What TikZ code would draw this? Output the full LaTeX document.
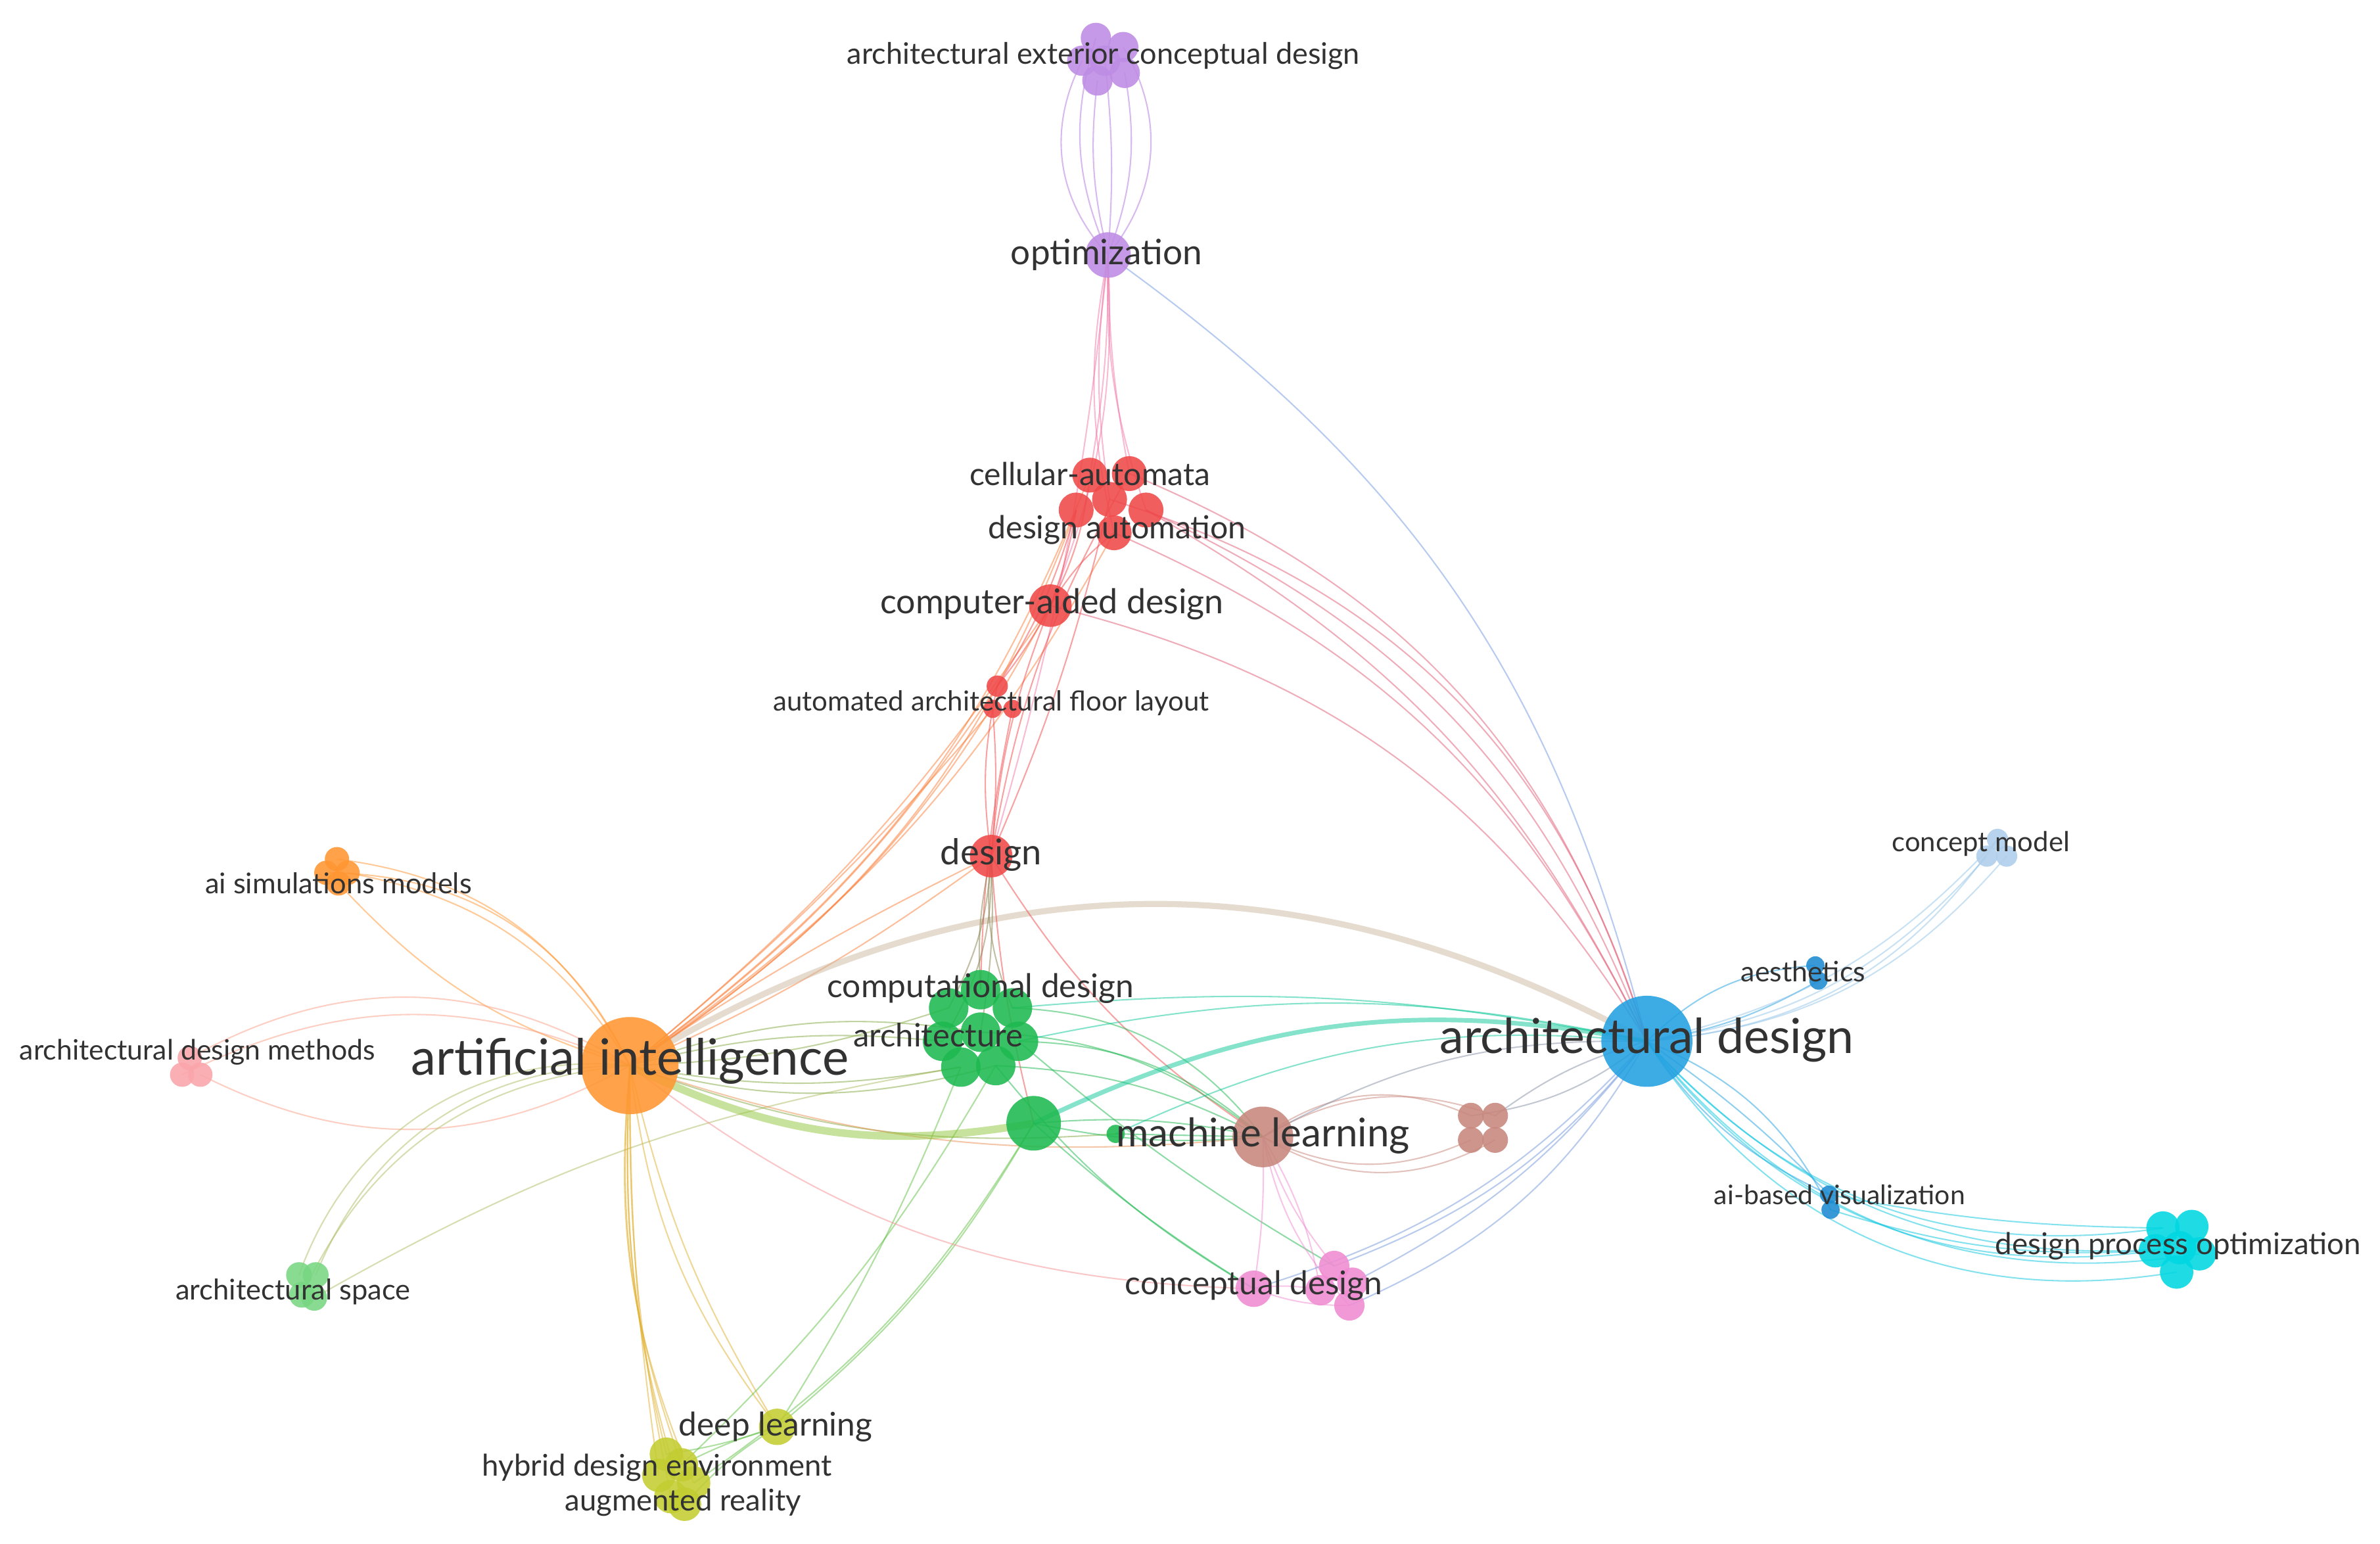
\documentclass[tikz,border=0pt]{standalone}
\usepackage{fontspec}
\setmainfont{Lato}

\definecolor{cPurple}{RGB}{190,140,228}
\definecolor{cRed}{RGB}{240,72,72}
\definecolor{cGreen}{RGB}{30,185,80}
\definecolor{cOrange}{RGB}{255,150,50}
\definecolor{cBlue}{RGB}{35,160,225}
\definecolor{cBrown}{RGB}{200,135,125}
\definecolor{cPink}{RGB}{240,140,210}
\definecolor{cCyan}{RGB}{0,215,225}
\definecolor{cSky}{RGB}{175,205,235}
\definecolor{cRose}{RGB}{250,165,170}
\definecolor{cMint}{RGB}{120,215,130}
\definecolor{cOlive}{RGB}{195,205,50}
\definecolor{cNavy}{RGB}{30,140,210}
\definecolor{cTan}{RGB}{205,185,160}
\definecolor{cText}{RGB}{50,50,50}

\tikzset{
  kw/.style={circle, draw=none, fill=#1, fill opacity=0.88, inner sep=0pt},
  edge/.style={draw=#1, draw opacity=0.5, line width=0.9pt},
  lbl/.style={text=cText, inner sep=0pt},
  lblS/.style={lbl, font=\fontsize{18.5}{21}\selectfont},
  lblM/.style={lbl, font=\fontsize{21.5}{24}\selectfont},
  lblL/.style={lbl, font=\fontsize{26}{29}\selectfont},
  lblXL/.style={lbl, font=\fontsize{32}{36}\selectfont}
}

\begin{document}
\begin{tikzpicture}[x=1pt,y=1pt,yscale=-1,xscale=1]
    \fill[white] (0,0) rectangle (1568,1017);
    \useasboundingbox (0,0) rectangle (1568,1017);

    % keyword positions
    \coordinate (aecdA) at (722,25);  \coordinate (aecdB) at (740,31);
    \coordinate (aecdC) at (713,40);  \coordinate (aecdD) at (728,40);
    \coordinate (aecdE) at (741,48);  \coordinate (aecdF) at (723,53);
    \coordinate (opt) at (730,168);
    \coordinate (caA) at (718,313);   \coordinate (caB) at (744,312);
    \coordinate (caC) at (709,336);   \coordinate (caD) at (731,329);
    \coordinate (caE) at (755,336);   \coordinate (caF) at (734,351);
    \coordinate (cad) at (692,399);
    \coordinate (aaflA) at (657,452); \coordinate (aaflB) at (654,467);
    \coordinate (aaflC) at (667,467);
    \coordinate (des) at (653,564);
    \coordinate (cdA) at (646,652);   \coordinate (cdB) at (625,664);
    \coordinate (cdC) at (667,664);   \coordinate (cdD) at (621,686);
    \coordinate (cdE) at (646,680);   \coordinate (cdF) at (671,686);
    \coordinate (cdG) at (633,703);   \coordinate (cdH) at (656,702);
    \coordinate (grn) at (681,740);   \coordinate (grnS) at (735,747);
    \coordinate (ml) at (832,749);
    \coordinate (brA) at (969,735);   \coordinate (brB) at (985,735);
    \coordinate (brC) at (969,751);   \coordinate (brD) at (985,751);
    \coordinate (ad) at (1085,686);
    \coordinate (aesA) at (1196,636); \coordinate (aesB) at (1198,646);
    \coordinate (cmA) at (1316,553);  \coordinate (cmB) at (1309,564);
    \coordinate (cmC) at (1322,564);
    \coordinate (abvA) at (1205,787); \coordinate (abvB) at (1206,797);
    \coordinate (dpoA) at (1425,809); \coordinate (dpoB) at (1444,808);
    \coordinate (dpoC) at (1420,824); \coordinate (dpoD) at (1449,826);
    \coordinate (dpoE) at (1434,838); \coordinate (dpoF) at (1436,822);
    \coordinate (cnd) at (826,849);
    \coordinate (pkA) at (879,834);   \coordinate (pkB) at (870,850);
    \coordinate (pkC) at (891,845);   \coordinate (pkD) at (889,860);
    \coordinate (ai) at (415,702);
    \coordinate (aisA) at (222,566);  \coordinate (aisB) at (215,575);
    \coordinate (aisC) at (229,575);  \coordinate (aisD) at (223,582);
    \coordinate (admA) at (125,697);  \coordinate (admB) at (120,708);
    \coordinate (admC) at (132,708);
    \coordinate (aspA) at (197,840);  \coordinate (aspB) at (208,840);
    \coordinate (aspC) at (199,853);  \coordinate (aspD) at (207,855);
    \coordinate (dl) at (512,940);
    \coordinate (hdeA) at (439,958);  \coordinate (hdeB) at (449,965);
    \coordinate (hdeC) at (434,972);  \coordinate (hdeD) at (457,977);
    \coordinate (hdeE) at (442,986);  \coordinate (hdeF) at (451,991);

    % links (positive bend = bulge to the left of the run, as seen)
    \foreach \src/\dst/\bnd in {ai/aisA/-28, ai/aisB/-32, ai/aisC/-24, aisD/ai/-15}
      \draw[edge=cOrange] (\src) to[bend right=\bnd] (\dst);
    \foreach \src/\dst/\bnd in {ai/caC/-18, ai/caA/-16, ai/caF/-13, ai/cad/-14, ai/cad/-8,
        ai/aaflA/-10, ai/aaflB/-5, ai/des/-6, ai/des/4}
      \draw[edge=cOrange!70!cRed] (\src) to[bend right=\bnd] (\dst);
    \foreach \src/\dst/\bnd in {ai/admA/-30, ai/admB/-25, ai/admC/28}
      \draw[edge=cRose!70!cOrange] (\src) to[bend right=\bnd] (\dst);
    \foreach \src/\dst/\bnd in {ai/aspA/-38, ai/aspB/-34, ai/aspC/-30, aspD/cdG/10}
      \draw[edge=cMint!60!cOrange] (\src) to[bend right=\bnd] (\dst);
    \foreach \src/\dst/\bnd in {ai/hdeA/-8, ai/hdeB/-12, ai/hdeC/-4, ai/hdeE/-6, ai/hdeF/-10,
        ai/hdeD/-14, ai/dl/-15, ai/dl/-9}
      \draw[edge=cOlive!50!cOrange] (\src) to[bend right=\bnd] (\dst);
    \foreach \src/\dst/\bnd in {dl/hdeA/5, dl/hdeB/-5, dl/hdeF/-8, dl/grn/-10, dl/cdG/-5,
        hdeD/grn/-12, hdeB/cdH/-8}
      \draw[edge=cOlive!40!cGreen] (\src) to[bend right=\bnd] (\dst);
    \foreach \src/\dst/\bnd in {ai/cdB/-8, ai/cdD/10, ai/cdG/-10, ai/cdE/14, ai/cdH/-15, ai/grnS/-12}
      \draw[edge=cOrange!45!cGreen] (\src) to[bend right=\bnd] (\dst);
    \draw[edge=cOrange!60!cBrown] (ai) to[bend right=-12] (ml);
    \draw[edge=cOrange!40!cPink] (ai) to[bend right=-18] (cnd);
    \draw[edge=cOlive!70!cGreen, line width=5pt] (ai) to[bend right=-18] (grn);
    \draw[edge=cTan, line width=4pt] (ai) to[bend right=30] (ad);

    \foreach \src/\dst/\bnd in {opt/aecdC/35, opt/aecdA/20, opt/aecdF/10, opt/aecdD/-5,
        opt/aecdB/-35, opt/aecdE/-15}
      \draw[edge=cPurple, draw opacity=0.6] (\src) to[bend right=\bnd] (\dst);
    \foreach \src/\dst/\bnd in {opt/caA/5, opt/caB/-5, opt/caD/-8, opt/caE/-10, opt/caF/-12,
        opt/cad/12, opt/des/5}
      \draw[edge=cPink!70!cRed] (\src) to[bend right=\bnd] (\dst);
    \draw[edge=cPurple!50!cBlue] (opt) to[bend right=20] (ad);

    \foreach \src/\dst/\bnd in {caA/cad/10, caC/cad/5, caF/cad/-10, caD/des/5, caB/des/-10,
        caC/aaflA/8, cad/aaflA/5, cad/des/-8, aaflA/des/-10, aaflB/des/5, aaflC/cdA/-5,
        des/ml/-12, des/grn/-5}
      \draw[edge=cRed] (\src) to[bend right=\bnd] (\dst);
    \foreach \src/\dst/\bnd in {caB/ad/25, caE/ad/22, caE/ad/17, caF/ad/20, caD/ad/28, cad/ad/22}
      \draw[edge=cRed!70!cPurple] (\src) to[bend right=\bnd] (\dst);
    \foreach \src/\dst/\bnd in {des/cdB/12, des/cdA/-8, des/cdE/6, des/cdC/-14, des/cdD/16}
      \draw[edge=cRed!50!cGreen] (\src) to[bend right=\bnd] (\dst);

    \foreach \src/\dst/\bnd in {cdF/ml/20, cdC/ml/25, cdH/ml/12, cdE/ml/18, grn/ml/-8,
        grn/ml/8, grnS/ml/0, cdH/cnd/-10, cdF/pkA/-5, grn/cnd/-5}
      \draw[edge=cGreen] (\src) to[bend right=\bnd] (\dst);
    \foreach \src/\dst/\bnd in {cdF/ad/12, cdC/ad/8, grnS/ad/15}
      \draw[edge=cGreen!50!cCyan] (\src) to[bend right=\bnd] (\dst);
    \draw[edge=cGreen!50!cCyan, line width=3pt] (grn) to[bend right=18] (ad);

    \foreach \src/\dst/\bnd in {ml/brA/30, ml/brB/25, ml/brC/-25, ml/brD/-30}
      \draw[edge=cBrown] (\src) to[bend right=\bnd] (\dst);
    \foreach \src/\dst/\bnd in {ml/ad/15, ad/brA/15, ad/brB/-10}
      \draw[edge=cBrown!60!cBlue] (\src) to[bend right=\bnd] (\dst);
    \foreach \src/\dst/\bnd in {ml/cnd/5, ml/pkA/-10, ml/pkB/10, ml/pkD/-15, cnd/pkB/10, cnd/pkD/-10}
      \draw[edge=cPink] (\src) to[bend right=\bnd] (\dst);
    \foreach \src/\dst/\bnd in {pkA/ad/-15, pkC/ad/-12, pkD/ad/-18, cnd/ad/-15}
      \draw[edge=cPink!40!cBlue] (\src) to[bend right=\bnd] (\dst);

    \foreach \src/\dst/\bnd in {ad/aesA/20, ad/aesB/-10, ad/abvA/-15, ad/abvB/20, ad/abvA/5}
      \draw[edge=cBlue] (\src) to[bend right=\bnd] (\dst);
    \foreach \src/\dst/\bnd in {ad/cmA/-25, ad/cmB/-20, ad/cmC/-22, ad/cmA/-17}
      \draw[edge=cSky!80!cBlue] (\src) to[bend right=\bnd] (\dst);
    \foreach \src/\dst/\bnd in {ad/dpoA/-28, ad/dpoC/-30, ad/dpoE/-33, ad/dpoF/-26, ad/dpoD/-30,
        abvB/dpoC/-10, abvA/dpoA/-5}
      \draw[edge=cCyan!70!cBlue] (\src) to[bend right=\bnd] (\dst);

    %Shape: Circle
    \foreach \n in {aecdA,aecdB,aecdC,aecdD,aecdE,aecdF}
      \node[kw=cPurple, minimum size=20] (\n-c) at (\n) {};
    \node[kw=cPurple, minimum size=30] (opt-c) at (opt) {};
    \foreach \n in {caA,caB,caC,caD,caE,caF}
      \node[kw=cRed, minimum size=23] (\n-c) at (\n) {};
    \node[kw=cRed, minimum size=28] (cad-c) at (cad) {};
    \node[kw=cRed, minimum size=14] (aaflA-c) at (aaflA) {};
    \node[kw=cRed, minimum size=12] (aaflB-c) at (aaflB) {};
    \node[kw=cRed, minimum size=12] (aaflC-c) at (aaflC) {};
    \node[kw=cRed, minimum size=28] (des-c) at (des) {};
    \foreach \n in {cdA,cdB,cdC,cdD,cdE,cdF,cdG,cdH}
      \node[kw=cGreen, minimum size=26] (\n-c) at (\n) {};
    \node[kw=cGreen, minimum size=36] (grn-c) at (grn) {};
    \node[kw=cGreen, minimum size=12] (grnS-c) at (grnS) {};
    \node[kw=cBrown, minimum size=40] (ml-c) at (ml) {};
    \foreach \n in {brA,brB,brC,brD}
      \node[kw=cBrown, minimum size=17] (\n-c) at (\n) {};
    \node[kw=cBlue, minimum size=60] (ad-c) at (ad) {};
    \foreach \n in {aesA,aesB,abvA,abvB}
      \node[kw=cNavy, minimum size=12] (\n-c) at (\n) {};
    \foreach \n in {cmA,cmB,cmC}
      \node[kw=cSky, minimum size=14] (\n-c) at (\n) {};
    \foreach \n in {dpoA,dpoB,dpoC,dpoD,dpoE,dpoF}
      \node[kw=cCyan, minimum size=22] (\n-c) at (\n) {};
    \node[kw=cPink, minimum size=24] (cnd-c) at (cnd) {};
    \foreach \n in {pkA,pkB,pkC,pkD}
      \node[kw=cPink, minimum size=20] (\n-c) at (\n) {};
    \node[kw=cOrange, minimum size=64] (ai-c) at (ai) {};
    \foreach \n in {aisA,aisB,aisC,aisD}
      \node[kw=cOrange, minimum size=16] (\n-c) at (\n) {};
    \foreach \n in {admA,admB,admC}
      \node[kw=cRose, minimum size=16] (\n-c) at (\n) {};
    \foreach \n in {aspA,aspB,aspC,aspD}
      \node[kw=cMint, minimum size=17] (\n-c) at (\n) {};
    \node[kw=cOlive, minimum size=24] (dl-c) at (dl) {};
    \foreach \n in {hdeA,hdeB,hdeC,hdeD,hdeE,hdeF}
      \node[kw=cOlive, minimum size=22] (\n-c) at (\n) {};

    % Text Node
    \node[lblS, font=\fontsize{19.5}{22}\selectfont] (aecd-l) at (727,37) {architectural exterior conceptual design};
    \node[lblM, font=\fontsize{23}{26}\selectfont] (opt-l) at (729,168) {optimization};
    \node[lblM, font=\fontsize{20.8}{24}\selectfont] (ca-l) at (718,312) {cellular-automata};
    \node[lblM, font=\fontsize{20.9}{24}\selectfont] (da-l) at (736,349) {design automation};
    \node[lblM, font=\fontsize{22.5}{25}\selectfont] (cad-l) at (693,398) {computer-aided design};
    \node[lblS, font=\fontsize{18.2}{21}\selectfont] (aafl-l) at (653,463) {automated architectural floor layout};
    \node[lblM, font=\fontsize{23.5}{26}\selectfont] (des-l) at (653,563) {design};
    \node[lblM] (cd-l) at (646,651) {computational design};
    \node[lblM, font=\fontsize{21.2}{24}\selectfont] (arch-l) at (618,682) {architecture};
    \node[lblL] (ml-l) at (832,748) {machine learning};
    \node[lblXL, font=\fontsize{31.8}{36}\selectfont] (ad-l) at (1085,685) {architectural design};
    \node[lblS] (aes-l) at (1188,640) {aesthetics};
    \node[lblS, font=\fontsize{18.1}{21}\selectfont] (cm-l) at (1305,556) {concept model};
    \node[lblS, font=\fontsize{17.7}{20}\selectfont] (abv-l) at (1212,787) {ai-based visualization};
    \node[lblS, font=\fontsize{19.8}{22}\selectfont] (dpo-l) at (1435,821) {design process optimization};
    \node[lblM] (cnd-l) at (826,847) {conceptual design};
    \node[lblXL, font=\fontsize{33}{37}\selectfont] (ai-l) at (415,699) {artificial intelligence};
    \node[lblS, font=\fontsize{18.8}{21}\selectfont] (ais-l) at (223,582) {ai simulations models};
    \node[lblS] (adm-l) at (130,693) {architectural design methods};
    \node[lblS, font=\fontsize{18.8}{21}\selectfont] (asp-l) at (193,851) {architectural space};
    \node[lblM] (dl-l) at (511,940) {deep learning};
    \node[lblM, font=\fontsize{19.7}{22}\selectfont] (hde-l) at (433,967) {hybrid design environment};
    \node[lblM, font=\fontsize{19.7}{22}\selectfont] (ar-l) at (450,990) {augmented reality};

\end{tikzpicture}
\end{document}
